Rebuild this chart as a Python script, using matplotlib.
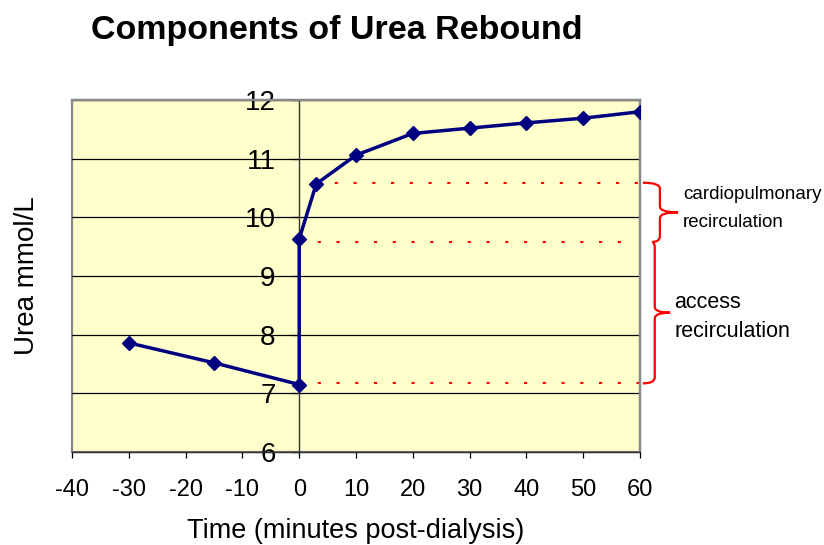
import matplotlib.pyplot as plt
from matplotlib.path import Path
from matplotlib.patches import PathPatch, Rectangle
import matplotlib.transforms as mtransforms

plt.rcParams['font.family'] = ['Liberation Sans', 'DejaVu Sans']
plt.rcParams['axes.unicode_minus'] = False

# data
time = [-30, -15, 0, 0, 3, 10, 20, 30, 40, 50, 60]
urea = [7.86, 7.52, 7.15, 9.63, 10.57, 11.06, 11.43, 11.52, 11.61, 11.69, 11.80]

# dotted reference levels (y, x start, x end)
level_y = [10.59, 9.58, 7.17]
level_x0 = [3, 0, 0]
level_x1 = [60, 58, 60]

xticks = [-40, -30, -20, -10, 0, 10, 20, 30, 40, 50, 60]
yticks = [6, 7, 8, 9, 10, 11, 12]

W, H = 824, 545
fig = plt.figure(figsize=(W / 100, H / 100), dpi=100)
ax = fig.add_axes([72 / W, 1 - 452 / H, 568 / W, 352 / H])
ax.set_facecolor('#FFFFCC')

ax.set_xlim(-40, 60)
ax.set_ylim(6, 12)
ax.set_xticks(xticks)
ax.set_yticks(yticks)

ax.yaxis.grid(True, color='black', lw=0.9)
ax.set_axisbelow(True)

for y, x0, x1 in zip(level_y, level_x0, level_x1):
    ax.plot([x0, x1], [y, y], color='red', lw=1.5, ls=(0, (1.5, 7.5)), zorder=2)

ax.plot(time, urea, color='#000080', lw=2.5, marker='D', markersize=7, zorder=3)

# axes / frame
ax.spines['left'].set_position(('data', 0))
ax.spines['left'].set_color('#333333')
ax.spines['left'].set_linewidth(1.0)
ax.spines['bottom'].set_color('#333333')
ax.spines['bottom'].set_linewidth(1.0)
for s in ['top', 'right']:
    ax.spines[s].set_color('#888888')
    ax.spines[s].set_linewidth(1.6)
ax.add_patch(Rectangle((0, 0), 1, 1, transform=ax.transAxes, fill=False,
                       ec='#888888', lw=1.6, clip_on=False, zorder=0.5))

ax.tick_params(axis='y', direction='out', length=6, width=0.9, pad=11,
               labelsize=20, colors='black')
ax.tick_params(axis='x', direction='out', length=4.5, width=0.9, pad=15,
               labelsize=17, colors='black')

ax.set_xlabel('Time (minutes post-dialysis)', fontsize=19.5, labelpad=12)
fig.text(27 / W, 1 - 276 / H, 'Urea mmol/L', rotation=90, fontsize=20,
         ha='center', va='center')
fig.text(337 / W, 1 - 39 / H, 'Components of Urea Rebound', fontsize=24.5,
         fontweight='bold', ha='center', va='baseline')

# braces on the right
trans = mtransforms.blended_transform_factory(ax.transAxes, ax.transData)


def brace(xt, xb, xs, xtip, ytop, ybot, r=0.1):
    ym = (ytop + ybot) / 2
    verts = [(xt, ytop), (xs, ytop), (xs, ytop - r), (xs, ym + r),
             (xs, ym), (xtip, ym), (xs, ym), (xs, ym - r),
             (xs, ybot + r), (xs, ybot), (xb, ybot)]
    codes = [Path.MOVETO, Path.CURVE3, Path.CURVE3, Path.LINETO,
             Path.CURVE3, Path.CURVE3, Path.CURVE3, Path.CURVE3,
             Path.LINETO, Path.CURVE3, Path.CURVE3]
    ax.add_patch(PathPatch(Path(verts, codes), transform=trans, fill=False,
                           ec='red', lw=1.6, clip_on=False))


brace(1.005, 1.021, 1.035, 1.067, level_y[0], level_y[1])
brace(1.021, 1.005, 1.026, 1.053, level_y[1], level_y[2])

fig.text(683 / W, 1 - 199 / H, 'cardiopulmonary', fontsize=13.5, va='baseline')
fig.text(683 / W, 1 - 227 / H, 'recirculation', fontsize=13.5, va='baseline')
fig.text(674 / W, 1 - 308 / H, 'access', fontsize=15.5, va='baseline')
fig.text(674 / W, 1 - 337 / H, 'recirculation', fontsize=15.5, va='baseline')

fig.savefig('out.png', dpi=100)
